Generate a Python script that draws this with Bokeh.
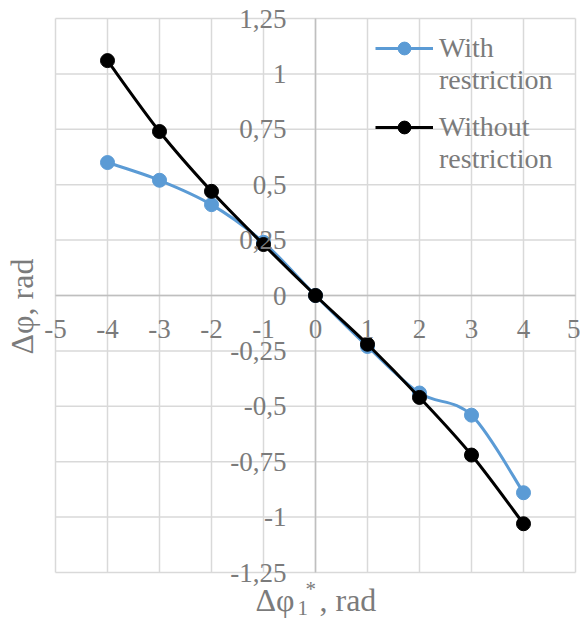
import numpy as np
from math import pi
from bokeh.plotting import figure
from bokeh.models import (ColumnDataSource, FixedTicker, CustomJSTickFormatter,
                          Legend, LegendItem, Label, Range1d)
from bokeh.embed import file_html
from bokeh.resources import INLINE

# ---------------- data ----------------
phi1 = [-4, -3, -2, -1, 0, 1, 2, 3, 4]
with_restriction = [0.60, 0.52, 0.41, 0.24, 0.0, -0.23, -0.44, -0.54, -0.89]
without_restriction = [1.06, 0.74, 0.47, 0.23, 0.0, -0.22, -0.46, -0.72, -1.03]

x_ticks = [-5, -4, -3, -2, -1, 0, 1, 2, 3, 4, 5]
x_tick_labels = ["-5", "-4", "-3", "-2", "-1", "0", "1", "2", "3", "4", "5"]
y_ticks = [-1.25, -1.0, -0.75, -0.5, -0.25, 0.0, 0.25, 0.5, 0.75, 1.0, 1.25]
y_tick_labels = ["-1,25", "-1", "-0,75", "-0,5", "-0,25", "0",
                 "0,25", "0,5", "0,75", "1", "1,25"]

legend_with = ["With", "restriction"]
legend_without = ["Without", "restriction"]

# ---------------- style / layout ----------------
GRAY = "#7b7b7b"
GRID = "#d9d9d9"
AXIS = "#bfbfbf"
BLUE = "#5b9bd5"
BLACK = "#000000"
FONT = "Liberation Serif"

W, H = 580, 618
PL, PR, PT, PB = 55, 575, 18, 572      # plot-area box in canvas pixels

x_lo, x_hi = x_ticks[0], x_ticks[-1]
y_lo, y_hi = y_ticks[0], y_ticks[-1]
kx = (PR - PL) / (x_hi - x_lo)
ky = (PB - PT) / (y_hi - y_lo)
x_range = Range1d(x_lo - PL / kx, x_hi + (W - PR) / kx)
y_range = Range1d(y_lo - (H - PB) / ky, y_hi + PT / ky)


def smooth_segments(xs, ys):
    """Cubic Bezier segments through the points (Excel-like smoothing)."""
    x = np.asarray(xs, float)
    y = np.asarray(ys, float)
    n = len(x)
    xp = np.concatenate([[x[0]], x, [x[-1]]])
    yp = np.concatenate([[y[0]], y, [y[-1]]])
    return dict(
        x0=x[:-1], y0=y[:-1], x1=x[1:], y1=y[1:],
        cx0=x[:-1] + (xp[2:n + 1] - xp[0:n - 1]) / 6.0,
        cy0=y[:-1] + (yp[2:n + 1] - yp[0:n - 1]) / 6.0,
        cx1=x[1:] - (xp[3:n + 2] - xp[1:n]) / 6.0,
        cy1=y[1:] - (yp[3:n + 2] - yp[1:n]) / 6.0,
    )


p = figure(width=W, height=H, title=None,
           x_range=x_range, y_range=y_range,
           output_backend="svg", toolbar_location=None,
           min_border=0, min_border_left=0, min_border_right=0,
           min_border_top=0, min_border_bottom=0)
p.background_fill_color = "white"
p.border_fill_color = "white"
p.outline_line_color = None
p.grid.visible = False

# ---------------- grid and zero axes (drawn from the tick arrays) ----------------
p.segment(x0=x_ticks, y0=[y_lo] * len(x_ticks), x1=x_ticks, y1=[y_hi] * len(x_ticks),
          line_color=GRID, line_width=1.5, level="underlay")
p.segment(x0=[x_lo] * len(y_ticks), y0=y_ticks, x1=[x_hi] * len(y_ticks), y1=y_ticks,
          line_color=GRID, line_width=1.5, level="underlay")
p.segment(x0=[0, x_lo], y0=[y_lo, 0], x1=[0, x_hi], y1=[y_hi, 0],
          line_color=AXIS, line_width=1.5, level="underlay")

fmt_code = """
const i = tvals.findIndex(t => Math.abs(t - tick) < 1e-9);
return i < 0 ? String(tick) : tlabels[i];
"""

xa = p.xaxis[0]
xa.fixed_location = 0
xa.ticker = FixedTicker(ticks=x_ticks)
xa.formatter = CustomJSTickFormatter(args=dict(tvals=x_ticks, tlabels=x_tick_labels), code=fmt_code)
ya = p.yaxis[0]
ya.fixed_location = 0
ya.ticker = FixedTicker(ticks=y_ticks)
ya.formatter = CustomJSTickFormatter(args=dict(tvals=y_ticks, tlabels=y_tick_labels), code=fmt_code)

for ax in (xa, ya):
    ax.level = "glyph"
    ax.axis_line_color = None
    ax.major_tick_line_color = None
    ax.minor_tick_line_color = None
    ax.major_tick_out = 0
    ax.major_tick_in = 0
    ax.major_label_text_font = FONT
    ax.major_label_text_font_size = "27px"
    ax.major_label_text_color = GRAY
xa.major_label_standoff = 24
ya.major_label_standoff = 29

# ---------------- series ----------------
src_w = ColumnDataSource(dict(x=phi1, y=with_restriction))
src_wo = ColumnDataSource(dict(x=phi1, y=without_restriction))

bz_w = p.bezier(source=ColumnDataSource(smooth_segments(phi1, with_restriction)),
                x0="x0", y0="y0", x1="x1", y1="y1", cx0="cx0", cy0="cy0", cx1="cx1", cy1="cy1",
                line_color=BLUE, line_width=3)
sc_w = p.scatter("x", "y", source=src_w, size=14, fill_color=BLUE, line_color=BLUE, line_width=1)
bz_wo = p.bezier(source=ColumnDataSource(smooth_segments(phi1, without_restriction)),
                 x0="x0", y0="y0", x1="x1", y1="y1", cx0="cx0", cy0="cy0", cx1="cx1", cy1="cy1",
                 line_color=BLACK, line_width=3)
sc_wo = p.scatter("x", "y", source=src_wo, size=14, fill_color=BLACK, line_color=BLACK, line_width=1)

# invisible proxy for the second line of each legend label
blank = p.line(x=[], y=[], line_alpha=0)


def make_legend(items, bottom):
    return Legend(items=items, location=(375, bottom), orientation="vertical",
                  glyph_width=58, glyph_height=32, label_height=32, label_standoff=6,
                  spacing=0, padding=0, margin=0,
                  border_line_color=None, background_fill_alpha=0,
                  label_text_font=FONT, label_text_font_size="28px",
                  label_text_color=GRAY)


leg1 = make_legend([LegendItem(label=legend_with[0], renderers=[bz_w, sc_w]),
                    LegendItem(label=legend_with[1], renderers=[blank])], H - 96)
leg2 = make_legend([LegendItem(label=legend_without[0], renderers=[bz_wo, sc_wo]),
                    LegendItem(label=legend_without[1], renderers=[blank])], H - 175)
p.add_layout(leg1)
p.add_layout(leg2)

# ---------------- axis titles ----------------
def title_part(text, x, y, size, **kw):
    p.add_layout(Label(x=x, y=H - y, x_units="screen", y_units="screen", text=text,
                       text_font=FONT, text_font_size=size, text_color=GRAY,
                       text_baseline="middle", **kw))


title_part("Δφ, rad", 21, 306, "32px", angle=pi / 2, text_align="center")
title_part("Δφ", 255, 599, "32px", text_align="left")
title_part("1", 297, 607, "21px", text_align="left")
title_part("*", 305, 588, "21px", text_align="left")
title_part(", rad", 319, 599, "32px", text_align="left")

open("out.html", "w").write(file_html(p, INLINE))
